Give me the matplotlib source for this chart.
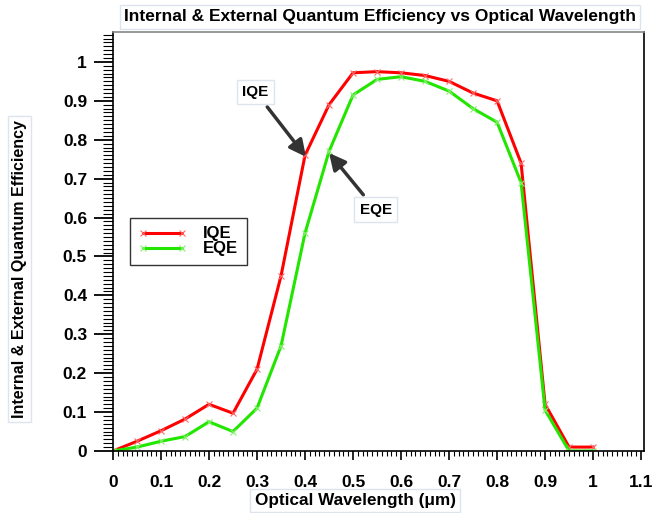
import numpy as np
import matplotlib.pyplot as plt
from matplotlib.ticker import MultipleLocator

plt.rcParams['font.family'] = ['Liberation Sans', 'DejaVu Sans']
plt.rcParams['font.weight'] = 'bold'

# longitudes de onda (um)
longitud = [0.0, 0.05, 0.1, 0.15, 0.2, 0.25, 0.3, 0.35, 0.4, 0.45, 0.5,
            0.55, 0.6, 0.65, 0.7, 0.75, 0.8, 0.85, 0.9, 0.95, 1.0]
iqe = [0.0, 0.025, 0.052, 0.082, 0.12, 0.097, 0.21, 0.45, 0.76, 0.89, 0.972,
       0.975, 0.972, 0.965, 0.95, 0.92, 0.9, 0.74, 0.12, 0.01, 0.01]
eqe = [0.0, 0.01, 0.025, 0.037, 0.075, 0.05, 0.11, 0.27, 0.56, 0.77, 0.915,
       0.955, 0.962, 0.95, 0.925, 0.88, 0.845, 0.69, 0.105, 0.0, 0.0]

etiquetas_x = ['0', '0.1', '0.2', '0.3', '0.4', '0.5', '0.6', '0.7', '0.8', '0.9', '1', '1.1']
etiquetas_y = ['0', '0.1', '0.2', '0.3', '0.4', '0.5', '0.6', '0.7', '0.8', '0.9', '1']

fig = plt.figure(figsize=(6.52, 5.13), dpi=100)
ax = fig.add_axes([0.1733, 0.1209, 0.8144, 0.8168])

ax.plot(longitud, iqe, color='#ff0000', lw=2.2, marker='x', ms=5, mew=0.8,
        mec='#ff6a6a', label='IQE')
ax.plot(longitud, eqe, color='#22e600', lw=2.2, marker='x', ms=5, mew=0.8,
        mec='#88f070', label='EQE')

ax.set_xlim(0, 1.106)
ax.set_ylim(0, 1.077)

ax.set_xticks(np.arange(0, 1.101, 0.1))
ax.set_xticklabels(etiquetas_x)
ax.set_yticks(np.arange(0, 1.001, 0.1))
ax.set_yticklabels(etiquetas_y)
ax.xaxis.set_minor_locator(MultipleLocator(0.01))
ax.yaxis.set_minor_locator(MultipleLocator(0.01))

ax.tick_params(axis='x', which='major', direction='out', length=6.5, width=1.2,
               labelsize=12.5, pad=10.5)
ax.tick_params(axis='x', which='minor', direction='out', length=3.6, width=0.8)
ax.tick_params(axis='y', which='major', direction='out', length=13.7, width=1.3,
               labelsize=12.5, pad=5)
ax.tick_params(axis='y', which='minor', direction='out', length=7.2, width=0.8)
for s in ax.spines.values():
    s.set_linewidth(1.2)
ax.spines['top'].set_color('#888888')

caja = dict(boxstyle='square,pad=0.25', fc='white', ec='#dde4ee', lw=1)
caja_flecha = dict(boxstyle='square,pad=0.35', fc='white', ec='#dde4ee', lw=1)

fig.text(0.583, 0.967, 'Internal & External Quantum Efficiency vs Optical Wavelength',
         fontsize=12.5, fontweight='bold', ha='center', va='center', bbox=caja)
ax.set_xlabel('Optical Wavelength (\u03bcm)', fontsize=12.3, fontweight='bold',
              bbox=caja)
ax.xaxis.set_label_coords(0.456, -0.118)
ax.xaxis.label.set_va('center')
ax.set_ylabel('Internal & External Quantum Efficiency', fontsize=11.5,
              fontweight='bold', bbox=caja)
ax.yaxis.set_label_coords(-0.176, 0.434)
ax.yaxis.label.set_va('center')

flecha = dict(arrowstyle='-|>,head_length=0.9,head_width=0.45', color='#333333',
              lw=2.5, shrinkA=2, shrinkB=0)
ax.annotate('IQE', xy=(0.402, 0.756), xytext=(0.297, 0.923), fontsize=11,
            fontweight='bold', ha='center', va='center', bbox=caja_flecha,
            arrowprops=flecha)
ax.annotate('EQE', xy=(0.45, 0.766), xytext=(0.547, 0.62), fontsize=11,
            fontweight='bold', ha='center', va='center', bbox=caja_flecha,
            arrowprops=flecha)

ley = ax.legend(loc='upper left', bbox_to_anchor=(0.032, 0.556), borderaxespad=0,
                fontsize=12, frameon=True, fancybox=False, edgecolor='black',
                numpoints=2, handlelength=2.9, handletextpad=1.0, borderpad=0.5,
                labelspacing=0.0)
ley.get_frame().set_linewidth(1)

fig.savefig('out.png', dpi=100)
